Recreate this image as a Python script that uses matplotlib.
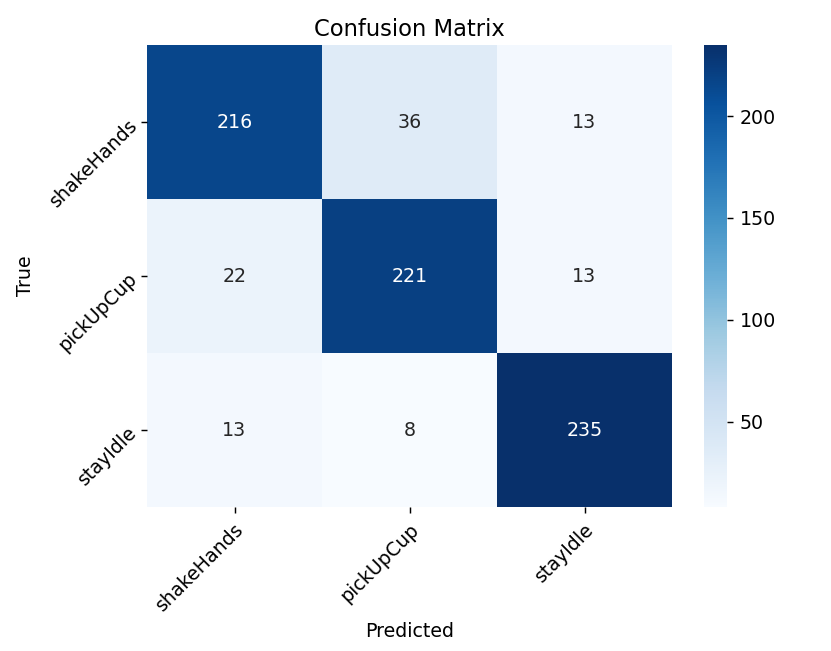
import numpy as np
import matplotlib
matplotlib.use('Agg')
import matplotlib.pyplot as plt
import seaborn as sns

# class names and counts
labels = ['shakeHands', 'pickUpCup', 'stayIdle']
cm = np.array([[216, 36, 13],
               [22, 221, 13],
               [13, 8, 235]])

dpi = 130
plt.rcParams['font.size'] = 10.5
fig = plt.figure(figsize=(831 / dpi, 651 / dpi), dpi=dpi)
ax = fig.add_axes([147 / 831, 1 - 507 / 651, 525 / 831, 462 / 651])
cax = fig.add_axes([704 / 831, 1 - 507 / 651, 23 / 831, 462 / 651])

sns.heatmap(cm, annot=True, fmt='d', cmap='Blues', ax=ax, cbar_ax=cax,
            xticklabels=labels, yticklabels=labels)
ax.set_title('Confusion Matrix', fontsize=12.5, pad=5)
ax.set_xlabel('Predicted')
ax.set_ylabel('True', labelpad=6)
plt.setp(ax.get_xticklabels(), rotation=45, ha='right', rotation_mode='anchor')
plt.setp(ax.get_yticklabels(), rotation=45, ha='right', rotation_mode='anchor')

fig.savefig('out.png', dpi=dpi)
